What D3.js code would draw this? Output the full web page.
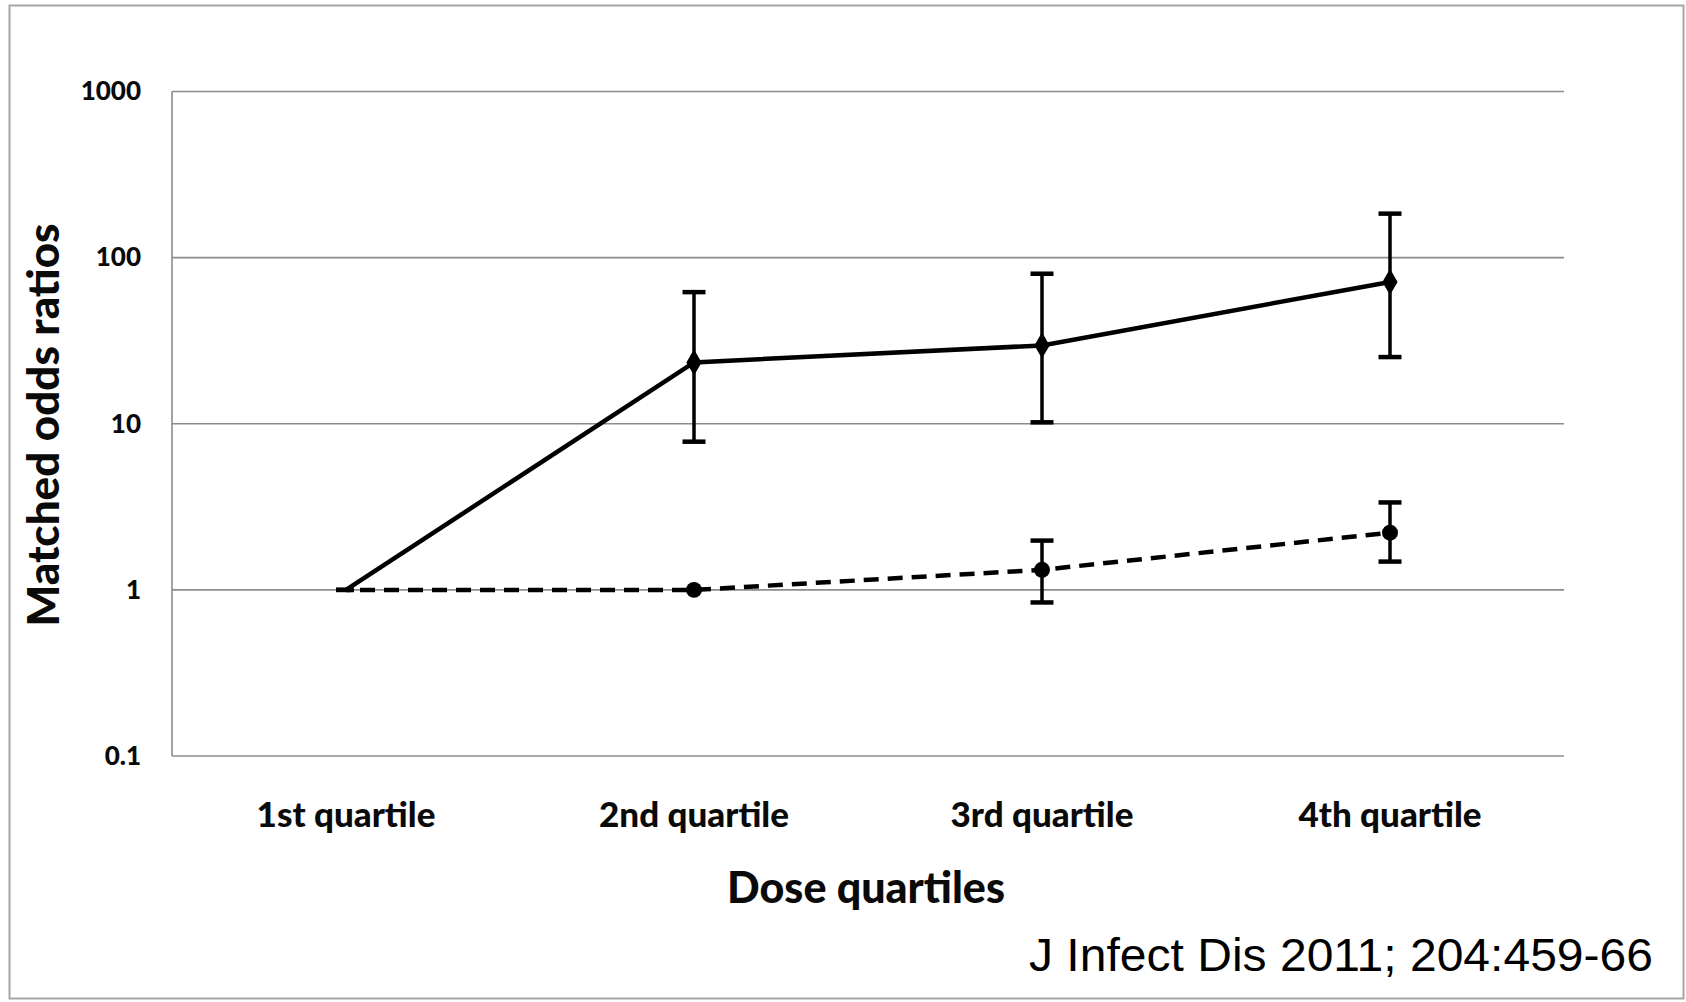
<!DOCTYPE html>
<html>
<head>
<meta charset="utf-8">
<script src="https://cdn.jsdelivr.net/npm/d3@7"></script>
<style>
  html, body { margin: 0; padding: 0; background: #fff; }
  svg { display: block; }
  .tick text { font-family: Lato, "Open Sans", sans-serif; font-weight: 900; fill: #0a0a0a; }
</style>
</head>
<body>
<svg id="chart" width="1686" height="1002"></svg>
<script>
// Dose quartile categories along the x axis
const quartiles = ["1st quartile", "2nd quartile", "3rd quartile", "4th quartile"];

// Log-scale tick values for the y axis
const yTicks = [0.1, 1, 10, 100, 1000];

// Solid series: matched odds ratios with 95% CI (first quartile is the reference)
const solidOR    = [1, 23.4, 29.6, 71.4];
const solidLower = [null, 7.8, 10.2, 25.2];
const solidUpper = [null, 62, 80, 184];

// Dashed series: matched odds ratios with 95% CI
const dashedOR    = [1, 1.0, 1.32, 2.21];
const dashedLower = [null, null, 0.84, 1.48];
const dashedUpper = [null, null, 1.98, 3.36];

const svg = d3.select("#chart");

// Outer frame
svg.append("rect")
  .attr("x", 9.5).attr("y", 5.5)
  .attr("width", 1674).attr("height", 993)
  .attr("fill", "#fff")
  .attr("stroke", "#a6a6a6").attr("stroke-width", 2);

const plot = { left: 172, right: 1564, top: 91.5, bottom: 756 };

const x = d3.scaleBand()
  .domain(quartiles)
  .range([plot.left, plot.right]);

const y = d3.scaleLog()
  .domain([0.1, 1000])
  .range([plot.bottom, plot.top]);

// Horizontal gridlines
svg.append("g")
  .selectAll("line")
  .data(yTicks)
  .join("line")
  .attr("x1", plot.left).attr("x2", plot.right)
  .attr("y1", d => y(d)).attr("y2", d => y(d))
  .attr("stroke", "#8c8c8c").attr("stroke-width", 1.6);

// Y axis line
svg.append("line")
  .attr("x1", plot.left).attr("x2", plot.left)
  .attr("y1", plot.top).attr("y2", plot.bottom)
  .attr("stroke", "#8c8c8c").attr("stroke-width", 1.6);

// Y axis tick labels
const yAxis = svg.append("g")
  .attr("transform", `translate(${plot.left},0)`)
  .call(d3.axisLeft(y).tickValues(yTicks).tickFormat(d3.format("~g")).tickSize(0).tickPadding(31));
yAxis.select(".domain").remove();
yAxis.selectAll("text").attr("font-size", 26);

// X axis tick labels
const xAxis = svg.append("g")
  .attr("transform", `translate(0,${plot.bottom})`)
  .call(d3.axisBottom(x).tickSize(0).tickPadding(46));
xAxis.select(".domain").remove();
xAxis.selectAll("text").attr("font-size", 35);

const cx = d => x(d) + x.bandwidth() / 2;

// Axis titles
svg.append("text")
  .attr("transform", `translate(59,425) rotate(-90)`)
  .attr("text-anchor", "middle")
  .attr("font-family", "Lato, 'Open Sans', sans-serif")
  .attr("font-weight", 900)
  .attr("font-size", 44)
  .attr("fill", "#0a0a0a")
  .text("Matched odds ratios");

svg.append("text")
  .attr("x", 866).attr("y", 903)
  .attr("text-anchor", "middle")
  .attr("font-family", "Lato, 'Open Sans', sans-serif")
  .attr("font-weight", 900)
  .attr("font-size", 43)
  .attr("fill", "#0a0a0a")
  .text("Dose quartiles");

// Citation
svg.append("text")
  .attr("x", 1653).attr("y", 971)
  .attr("text-anchor", "end")
  .attr("font-family", "'Liberation Sans', Arial, sans-serif")
  .attr("font-size", 46)
  .attr("fill", "#000")
  .attr("textLength", 624)
  .attr("lengthAdjust", "spacingAndGlyphs")
  .text("J Infect Dis 2011; 204:459-66");

function drawSeries(or, lower, upper, dashed, marker) {
  const g = svg.append("g");
  const pts = quartiles.map((q, i) => ({ q, v: or[i], lo: lower[i], hi: upper[i], i }));

  // Error bars
  const bars = pts.filter(p => p.lo != null && p.hi != null);
  g.selectAll("line.err")
    .data(bars)
    .join("line")
    .attr("class", "err")
    .attr("x1", p => cx(p.q)).attr("x2", p => cx(p.q))
    .attr("y1", p => y(p.hi)).attr("y2", p => y(p.lo))
    .attr("stroke", "#000").attr("stroke-width", 3.5);
  const caps = bars.flatMap(p => [{ q: p.q, v: p.hi }, { q: p.q, v: p.lo }]);
  g.selectAll("line.cap")
    .data(caps)
    .join("line")
    .attr("class", "cap")
    .attr("x1", c => cx(c.q) - 11.5).attr("x2", c => cx(c.q) + 11.5)
    .attr("y1", c => y(c.v)).attr("y2", c => y(c.v))
    .attr("stroke", "#000").attr("stroke-width", 4.5);

  // Connecting line
  const line = d3.line().x(p => cx(p.q)).y(p => y(p.v));
  g.append("path")
    .datum(pts)
    .attr("d", line)
    .attr("fill", "none")
    .attr("stroke", "#000")
    .attr("stroke-width", 4.5)
    .attr("stroke-dasharray", dashed ? "15 9" : null)
    .attr("stroke-dashoffset", dashed ? 10 : null);

  // Markers (the reference category has a short dash marker)
  g.selectAll("line.ref")
    .data(pts.filter(p => p.i === 0))
    .join("line")
    .attr("class", "ref")
    .attr("x1", p => cx(p.q) - 10).attr("x2", p => cx(p.q) + 8)
    .attr("y1", p => y(p.v)).attr("y2", p => y(p.v))
    .attr("stroke", "#000").attr("stroke-width", 4.5);

  const sym = d3.symbol().type(marker).size(marker === d3.symbolDiamond ? 200 : 200);
  g.selectAll("path.mk")
    .data(pts.filter(p => p.i > 0))
    .join("path")
    .attr("class", "mk")
    .attr("transform", p => `translate(${cx(p.q)},${y(p.v)})`)
    .attr("d", sym)
    .attr("fill", "#000");
}

drawSeries(solidOR, solidLower, solidUpper, false, d3.symbolDiamond);
drawSeries(dashedOR, dashedLower, dashedUpper, true, d3.symbolCircle);
</script>
</body>
</html>
